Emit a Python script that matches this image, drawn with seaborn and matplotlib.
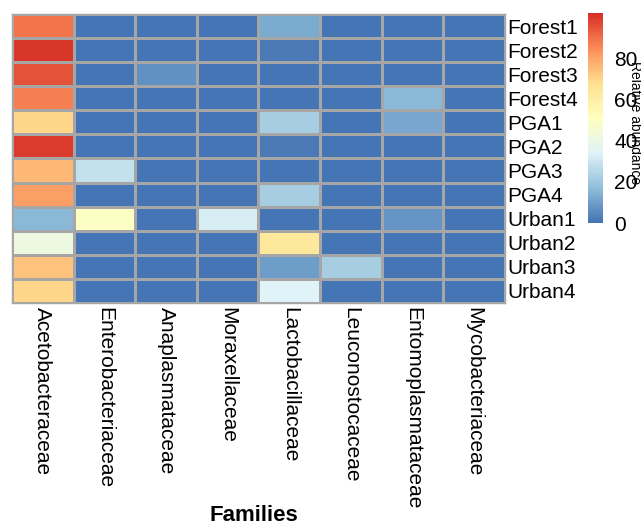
import matplotlib
matplotlib.use('Agg')
import matplotlib.pyplot as plt
from matplotlib.colors import LinearSegmentedColormap
import seaborn as sb
import pandas as pd
import numpy as np

samples = ['Forest1', 'Forest2', 'Forest3', 'Forest4', 'PGA1', 'PGA2',
           'PGA3', 'PGA4', 'Urban1', 'Urban2', 'Urban3', 'Urban4']
families = ['Acetobacteraceae', 'Enterobacteriaceae', 'Anaplasmataceae', 'Moraxellaceae',
            'Lactobacillaceae', 'Leuconostocaceae', 'Entomoplasmataceae', 'Mycobacteriaceae']

# relative abundance (%) per family, one list per family, rows in sample order
acetobacteraceae   = [89, 100, 95, 87, 70, 99, 76, 81, 16, 41, 74, 70]
enterobacteriaceae = [0, 0, 0, 0, 0, 0, 28, 0, 49, 0, 0, 0]
anaplasmataceae    = [0, 0, 7, 0, 0, 0, 0, 0, 0, 0, 0, 0]
moraxellaceae      = [0, 0, 0, 0, 0, 0, 0, 0, 32, 0, 0, 0]
lactobacillaceae   = [13, 1.5, 1, 0.5, 22, 1.5, 0.5, 22, 0, 64, 10, 34]
leuconostocaceae   = [0, 0, 0, 0, 0, 1, 0, 0, 0, 0, 22, 0]
entomoplasmataceae = [0, 0, 0, 16, 12, 0, 0, 0, 8, 0, 0, 0]
mycobacteriaceae   = [0, 0, 0, 0, 0, 0, 0, 0, 0, 0, 0, 0]

df = pd.DataFrame({
    'Acetobacteraceae': acetobacteraceae,
    'Enterobacteriaceae': enterobacteriaceae,
    'Anaplasmataceae': anaplasmataceae,
    'Moraxellaceae': moraxellaceae,
    'Lactobacillaceae': lactobacillaceae,
    'Leuconostocaceae': leuconostocaceae,
    'Entomoplasmataceae': entomoplasmataceae,
    'Mycobacteriaceae': mycobacteriaceae,
}, index=samples)[families]

# pheatmap default palette: rev(brewer.pal(7, "RdYlBu"))
pal = ['#4575B4', '#91BFDB', '#E0F3F8', '#FFFFBF', '#FEE090', '#FC8D59', '#D73027']
cmap = LinearSegmentedColormap.from_list('rdylbu', pal, N=100)

plt.rcParams['font.family'] = ['Liberation Sans', 'DejaVu Sans']

fig = plt.figure(figsize=(6.41, 5.25), dpi=100)
ax = fig.add_axes([0.0187, 0.4229, 0.769, 0.5505])
cax = fig.add_axes([0.9173, 0.5752, 0.0234, 0.40])

sb.heatmap(df, ax=ax, cbar_ax=cax, cmap=cmap, vmin=0, vmax=102,
           linewidths=1, linecolor='#A6A6A6')

ax.yaxis.tick_right()
ax.set_yticks(np.arange(len(samples)) + 0.5)
ax.set_yticklabels(samples, rotation=0, fontsize=15)
ax.set_xticks(np.arange(len(families)) + 0.5)
ax.set_xticklabels(families, rotation=-90, fontsize=15, ha='center', va='top')
ax.tick_params(axis='both', length=0, pad=3)
ax.tick_params(axis='y', pad=2)
ax.set_ylabel('')
ax.set_xlabel('Families', fontsize=16, fontweight='bold', labelpad=0)
ax.xaxis.set_label_coords(0.49, -0.7)
for s in ax.spines.values():
    s.set_visible(True)
    s.set_color('#A6A6A6')
    s.set_linewidth(1)

cbar = ax.collections[0].colorbar
cbar.set_ticks([0, 20, 40, 60, 80])
cbar.outline.set_visible(False)
cax.tick_params(length=0, labelsize=15, pad=8)
fig.text(0.99, 0.767, 'Relative abundance', rotation=-90, fontsize=10,
         ha='center', va='center')

plt.savefig('out.png', dpi=100)
